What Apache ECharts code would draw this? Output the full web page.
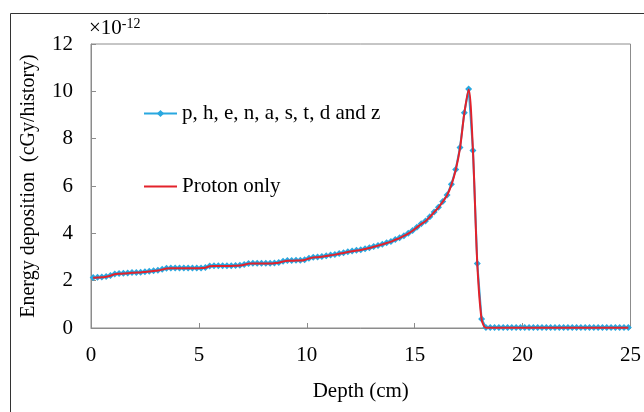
<!DOCTYPE html>
<html lang="en">
<head>
    <meta charset="UTF-8">
    <title>Energy deposition vs depth</title>
    <style>
      html, body { margin: 0; padding: 0; background: #fff; }
      #main { width: 644px; height: 412px; }
    </style>
</head>
<body>
<div id="main"></div>
<script src="https://cdn.jsdelivr.net/npm/echarts@6/dist/echarts.min.js"></script>
<script>
  // depth points (cm), every 0.2 cm
  var depth = [
    0.1, 0.3, 0.5, 0.7, 0.9, 1.1, 1.3, 1.5, 1.7, 1.9,
    2.1, 2.3, 2.5, 2.7, 2.9, 3.1, 3.3, 3.5, 3.7, 3.9,
    4.1, 4.3, 4.5, 4.7, 4.9, 5.1, 5.3, 5.5, 5.7, 5.9,
    6.1, 6.3, 6.5, 6.7, 6.9, 7.1, 7.3, 7.5, 7.7, 7.9,
    8.1, 8.3, 8.5, 8.7, 8.9, 9.1, 9.3, 9.5, 9.7, 9.9,
    10.1, 10.3, 10.5, 10.7, 10.9, 11.1, 11.3, 11.5, 11.7, 11.9,
    12.1, 12.3, 12.5, 12.7, 12.9, 13.1, 13.3, 13.5, 13.7, 13.9,
    14.1, 14.3, 14.5, 14.7, 14.9, 15.1, 15.3, 15.5, 15.7, 15.9,
    16.1, 16.3, 16.5, 16.7, 16.9, 17.1, 17.3, 17.5, 17.7, 17.9,
    18.1, 18.3, 18.5, 18.7, 18.9, 19.1, 19.3, 19.5, 19.7, 19.9,
    20.1, 20.3, 20.5, 20.7, 20.9, 21.1, 21.3, 21.5, 21.7, 21.9,
    22.1, 22.3, 22.5, 22.7, 22.9, 23.1, 23.3, 23.5, 23.7, 23.9,
    24.1, 24.3, 24.5, 24.7, 24.9
  ];
  // all particles (p, h, e, n, a, s, t, d and z), x1e-12 cGy/history
  var allParticles = [
    2.13, 2.14, 2.15, 2.18, 2.22, 2.28, 2.30, 2.31, 2.32, 2.34,
    2.35, 2.36, 2.38, 2.40, 2.42, 2.44, 2.48, 2.52, 2.53, 2.53,
    2.53, 2.53, 2.53, 2.53, 2.53, 2.54, 2.56, 2.62, 2.63, 2.63,
    2.63, 2.63, 2.63, 2.64, 2.65, 2.68, 2.73, 2.74, 2.74, 2.74,
    2.74, 2.74, 2.75, 2.77, 2.82, 2.85, 2.85, 2.86, 2.86, 2.88,
    2.95, 2.99, 3.00, 3.02, 3.05, 3.08, 3.11, 3.15, 3.18, 3.22,
    3.25, 3.28, 3.31, 3.35, 3.39, 3.44, 3.49, 3.54, 3.60, 3.66,
    3.74, 3.81, 3.90, 4.00, 4.12, 4.26, 4.40, 4.52, 4.70, 4.90,
    5.10, 5.35, 5.62, 6.07, 6.70, 7.63, 9.10, 10.10, 7.50, 2.73,
    0.38, 0.02, 0.02, 0.02, 0.02, 0.02, 0.02, 0.02, 0.02, 0.02,
    0.02, 0.02, 0.02, 0.02, 0.02, 0.02, 0.02, 0.02, 0.02, 0.02,
    0.02, 0.02, 0.02, 0.02, 0.02, 0.02, 0.02, 0.02, 0.02, 0.02,
    0.02, 0.02, 0.02, 0.02, 0.02
  ];
  // proton only, follows the same curve
  var protonOnly = [
    2.12, 2.13, 2.14, 2.17, 2.21, 2.27, 2.29, 2.30, 2.31, 2.33,
    2.34, 2.35, 2.37, 2.39, 2.41, 2.43, 2.47, 2.51, 2.52, 2.52,
    2.52, 2.52, 2.52, 2.52, 2.52, 2.53, 2.55, 2.61, 2.62, 2.62,
    2.62, 2.62, 2.62, 2.63, 2.64, 2.67, 2.72, 2.73, 2.73, 2.73,
    2.73, 2.73, 2.74, 2.76, 2.81, 2.84, 2.84, 2.85, 2.85, 2.87,
    2.94, 2.98, 2.99, 3.01, 3.04, 3.07, 3.10, 3.14, 3.17, 3.21,
    3.24, 3.27, 3.30, 3.34, 3.38, 3.43, 3.48, 3.53, 3.59, 3.65,
    3.73, 3.80, 3.89, 3.99, 4.11, 4.25, 4.39, 4.51, 4.69, 4.89,
    5.09, 5.34, 5.61, 6.05, 6.68, 7.60, 9.08, 10.08, 7.48, 2.72,
    0.37, 0.01, 0.01, 0.01, 0.01, 0.01, 0.01, 0.01, 0.01, 0.01,
    0.01, 0.01, 0.01, 0.01, 0.01, 0.01, 0.01, 0.01, 0.01, 0.01,
    0.01, 0.01, 0.01, 0.01, 0.01, 0.01, 0.01, 0.01, 0.01, 0.01,
    0.01, 0.01, 0.01, 0.01, 0.01
  ];
  var seriesNames = ['p, h, e, n, a, s, t, d and z', 'Proton only'];

  var serif = '"Liberation Serif", "DejaVu Serif", serif';
  var axisGray = '#8c8c8c';

  function pairs(xs, ys) {
    return xs.map(function (x, i) { return [x, ys[i]]; });
  }

  var myChart = echarts.init(document.getElementById('main'));
  var option = {
    animation: false,
    backgroundColor: '#fff',
    textStyle: { fontFamily: serif, color: '#000' },
    graphic: [
      {
        // outer frame of the figure
        type: 'rect',
        left: 8, top: 11,
        shape: { width: 700, height: 500 },
        style: { fill: null, stroke: '#333', lineWidth: 1 },
        silent: true
      },
      {
        type: 'text',
        left: 89, top: 17,
        style: {
          text: '{a|×10}{b|-12}',
          rich: {
            a: { fontFamily: serif, fontSize: 21, fill: '#000' },
            b: { fontFamily: serif, fontSize: 14, fill: '#000', verticalAlign: 'top', padding: [0, 0, 9, 0] }
          }
        }
      }
    ],
    legend: {
      orient: 'vertical',
      left: 138, top: 98,
      itemGap: 52,
      itemWidth: 33,
      itemHeight: 9,
      textStyle: { fontFamily: serif, fontSize: 21, color: '#000' },
      data: [
        seriesNames[0],
        { name: seriesNames[1], itemStyle: { opacity: 0 } }
      ]
    },
    grid: {
      left: 91, top: 44, right: 10, bottom: 84,
      show: true, borderColor: axisGray, borderWidth: 1
    },
    xAxis: {
      type: 'value',
      min: 0, max: 25, interval: 5,
      name: 'Depth (cm)',
      nameLocation: 'middle',
      nameGap: 53,
      nameTextStyle: { fontFamily: serif, fontSize: 21, color: '#000' },
      axisLine: { lineStyle: { color: axisGray } },
      axisTick: { inside: true, length: 5, lineStyle: { color: axisGray } },
      axisLabel: { margin: 17, fontFamily: serif, fontSize: 21, color: '#000' },
      splitLine: { show: false }
    },
    yAxis: {
      type: 'value',
      min: 0, max: 12, interval: 2,
      name: 'Energy deposition  (cGy/history)',
      nameLocation: 'middle',
      nameGap: 52,
      nameTextStyle: { fontFamily: serif, fontSize: 20, color: '#000' },
      axisLine: { show: true, lineStyle: { color: axisGray } },
      axisTick: { show: true, inside: true, length: 5, lineStyle: { color: axisGray } },
      axisLabel: { margin: 18, fontFamily: serif, fontSize: 21, color: '#000' },
      splitLine: { show: false }
    },
    series: [
      {
        name: seriesNames[0],
        type: 'line',
        z: 2,
        data: pairs(depth, allParticles),
        symbol: 'diamond',
        symbolSize: 7,
        itemStyle: { color: '#29a8e0' },
        lineStyle: { color: '#29a8e0', width: 2 }
      },
      {
        name: seriesNames[1],
        type: 'line',
        z: 5,
        data: pairs(depth, protonOnly),
        smooth: 0.3,
        showSymbol: false,
        symbol: 'none',
        itemStyle: { color: '#e3222b' },
        lineStyle: { color: '#e3222b', width: 2 }
      }
    ]
  };
  myChart.setOption(option);
</script>
</body>
</html>
